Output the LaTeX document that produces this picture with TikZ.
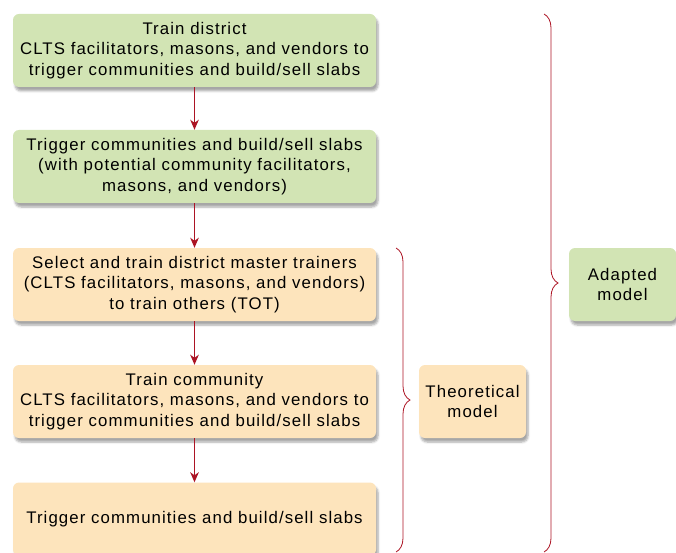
\documentclass[tikz,border=0pt]{standalone}
\usepackage{fontspec}
\setmainfont{Liberation Sans}[LetterSpace=6.5]
\usetikzlibrary{arrows.meta,shadows,shadows.blur,decorations.pathreplacing}
\definecolor{boxgreen}{HTML}{D2E4B4}
\definecolor{boxpeach}{HTML}{FDE4BC}
\definecolor{linered}{HTML}{AC1424}
\tikzset{
  stepbox/.style={rounded corners=6pt, minimum width=363pt, minimum height=73pt,
    align=center, inner sep=2pt, font=\fontsize{16.8}{20.8}\selectfont,
    blur shadow={shadow xshift=2pt, shadow yshift=-4pt, shadow blur steps=6, shadow opacity=35}},
  modelbox/.style={rounded corners=6pt, minimum width=107pt, minimum height=73pt,
    align=center, inner sep=2pt, font=\fontsize{16.8}{20.8}\selectfont,
    blur shadow={shadow xshift=2pt, shadow yshift=-4pt, shadow blur steps=6, shadow opacity=35}},
  flow/.style={linered, line width=1.8pt, -{Stealth[length=10pt,width=8.5pt,inset=3pt]}},
  bracestyle/.style={linered, line width=0.8pt, decorate, decoration={brace, amplitude=14pt, aspect=0.5}},
}
\begin{document}
\begin{tikzpicture}[x=1pt,y=1pt]
\useasboundingbox (0,0) rectangle (676,-553);
\node[stepbox, fill=boxgreen] (b1) at (194.5,-50.5) {Train district\\CLTS facilitators, masons, and vendors to\\trigger communities and build/sell slabs};
\node[stepbox, fill=boxgreen] (b2) at (194.5,-166.5) {Trigger communities and build/sell slabs\\(with potential community facilitators,\\masons, and vendors)};
\node[stepbox, fill=boxpeach] (b3) at (194.5,-284.5) {Select and train district master trainers\\(CLTS facilitators, masons, and vendors)\\to train others (TOT)};
\node[stepbox, fill=boxpeach] (b4) at (194.5,-401.5) {Train community\\CLTS facilitators, masons, and vendors to\\trigger communities and build/sell slabs};
\node[stepbox, fill=boxpeach] (b5) at (194.5,-519) {Trigger communities and build/sell slabs};
\node[modelbox, fill=boxpeach] (theo) at (472.5,-401.5) {Theoretical\\model};
\node[modelbox, fill=boxgreen] (adapt) at (622.5,-284.5) {Adapted\\model};
\draw[flow] (b1) -- (b2);
\draw[flow] (b2) -- (b3);
\draw[flow] (b3) -- (b4);
\draw[flow] (b4) -- (b5);
\coordinate (t1) at (396,-248);
\coordinate (t2) at (396,-552);
\coordinate (a1) at (544,-14);
\coordinate (a2) at (544,-552);
\draw[bracestyle] (t1) -- (t2);
\draw[bracestyle] (a1) -- (a2);
\end{tikzpicture}
\end{document}
